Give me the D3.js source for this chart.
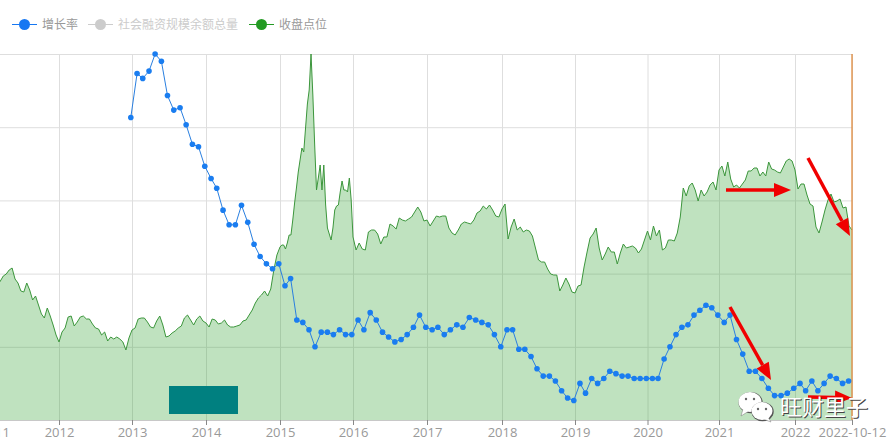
<!DOCTYPE html>
<html><head><meta charset="utf-8">
<style>html,body{margin:0;padding:0;background:#fff;overflow:hidden}svg{display:block}</style>
<script src="https://cdn.jsdelivr.net/npm/d3@7/dist/d3.min.js"></script>
</head><body><svg id="c" width="896" height="447"></svg>
<script>
const legendNames = ["增长率","社会融资规模余额总量","收盘点位"];
const tickLabels = ["2011","2012","2013","2014","2015","2016","2017","2018","2019","2020","2021","2022","2022-10-12"];
const growthTicks = [9,12,15,18,21,24];
const growth2013 = [21.4,23.2,23.0,23.3,24.0,23.7,22.3,21.7,21.8,21.1,20.3,20.2];
const growth2014 = [19.4,18.9,18.5,17.6,17.0,17.0,17.8,17.1,16.2,15.7,15.4,15.2];
const growth2015 = [15.4,14.5,14.8,13.1,13.0,12.7,12.0,12.6,12.6,12.5,12.7,12.5];
const growth2016 = [12.5,13.1,12.7,13.4,13.1,12.6,12.4,12.2,12.3,12.5,12.8,13.3];
const growth2017 = [12.8,12.7,12.8,12.5,12.7,12.9,12.8,13.2,13.1,13.0,12.9,12.5];
const growth2018 = [12.0,12.7,12.7,11.9,11.9,11.6,11.1,10.8,10.8,10.6,10.2,9.9];
const growth2019 = [9.8,10.5,10.1,10.7,10.5,10.7,11.0,10.9,10.8,10.8,10.7,10.7];
const growth2020 = [10.7,10.7,10.7,11.5,12.0,12.5,12.8,12.9,13.3,13.5,13.7,13.6];
const growth2021 = [13.3,13.0,13.3,12.3,11.7,11.0,11.0,10.7,10.3,10.0,10.0,10.1];
const growth2022 = [10.3,10.5,10.2,10.6,10.2,10.5,10.8,10.7,10.5,10.6];
const close2011 = [1320,1350,1390,1440,1460,1500,1520,1410,1370,1290,1280,1370,1300,1200,1240,1150,1060,1020,1120,1040,950,850];
const close2012 = [780,880,920,1030,1040,940,980,1030,1040,1010,1010,960,920,910,850,880,790,830,810,830,810,780,700,820];
const close2013 = [900,920,1010,1020,1020,980,930,920,990,1040,950,830,840,870,890,920,940,1020,1050,1000,950,1010,1040,990];
const close2014 = [970,930,1010,1000,960,970,1000,950,930,930,940,950,990,1000,1050,1100,1170,1220,1250,1290,1240,1310,1500,1650];
const close2015 = [1730,1750,1750,1710,1770,1850,1850,2000,2170,2320,2480,2600,2720,2680,2920,3160,3300,3660,3250,2750,2300,2420,2550,2300,2550,2150,1920,1860,1800,1920,2100,2140,2150,2280,2390,2300,2300,2280,2420,2200];
const close2016 = [1830,1700,1770,1710,1700,1880,1900,1900,1860,1760,1830,1830,1960,1940,1910,2020,2000,1990,2010,2030,2080,2130,2080,1990];
const close2017 = [2000,1940,1990,2040,2030,2040,2040,1920,1870,1850,1900,1960,1980,1970,1960,2000,2070,2090,2140,2110,2150,2100,2040,2030];
const close2018 = [2110,2160,1810,1930,2010,1900,1930,1880,1900,1890,1840,1720,1600,1580,1580,1510,1460,1450,1450,1290,1350,1420,1360,1280];
const close2019 = [1270,1340,1350,1530,1680,1820,1860,1920,1720,1600,1660,1730,1680,1680,1560,1670,1760,1720,1730,1740,1720,1670,1710,1800];
const close2020 = [1890,1800,1940,1840,1900,1700,1720,1800,1800,1790,1870,2030,2320,2240,2340,2370,2300,2190,2300,2240,2280,2350,2380,2300];
const close2021 = [2500,2540,2440,2580,2410,2330,2350,2320,2360,2400,2490,2490,2520,2520,2440,2480,2440,2580,2510,2500,2480,2470,2530,2590,2610,2590];
const close2022 = [2500,2310,2360,2360,2250,2160,2140,1930,1870,1980,2100,2200,2260,2180,2190,2210,2120,2130,1940,1900];

(function(){
const tickDates = [2011,2012,2013,2014,2015,2016,2017,2018,2019,2020,2021,2022].map(y=>new Date(y,0,1)).concat([new Date(2022,9,12)]);
const tickPx = [-5.5,59,132,206,280,353,427,502,575,647.5,719,795,852];
const plotTop=54,plotBottom=420,plotRight=852;
const x = d3.scaleTime().domain(tickDates).range(tickPx);
const yG = d3.scaleLinear().domain([9,24]).range([plotBottom,plotTop]);
const yC = d3.scaleLinear().domain([0,3660]).range([plotBottom,plotTop]);

const closeYears=[close2011,close2012,close2013,close2014,close2015,close2016,close2017,close2018,close2019,close2020,close2021,close2022];
const closeData=[];
closeYears.forEach((arr,yi)=>{
  const d0=+tickDates[yi], d1=+tickDates[yi+1], last=yi===closeYears.length-1;
  arr.forEach((v,i)=>closeData.push({t:new Date(d0+(d1-d0)*i/(last?arr.length-1:arr.length)),v}));
});
const growthAll=[].concat(growth2013,growth2014,growth2015,growth2016,growth2017,growth2018,growth2019,growth2020,growth2021,growth2022);
const growthData=growthAll.map((v,i)=>({t:new Date(2013,i,-5),v}));

const svg=d3.select("#c");
const font='"Noto Sans CJK SC","Open Sans",sans-serif';

// grid
const gy=svg.append("g").call(d3.axisRight(yG).tickValues(growthTicks).tickSize(plotRight).tickFormat(""));
gy.select(".domain").remove();
gy.selectAll("line").attr("stroke","#dedede");
const gx=svg.append("g").attr("transform",`translate(0,${plotBottom})`)
  .call(d3.axisBottom(x).tickValues(tickDates).tickSize(-(plotBottom-plotTop)).tickFormat(""));
gx.select(".domain").remove();
gx.selectAll("line").attr("stroke","#dedede");

// area + line
svg.append("path").datum(closeData).attr("fill","#2ca02c").attr("fill-opacity",0.3)
  .attr("d",d3.area().x(d=>x(d.t)).y0(plotBottom).y1(d=>yC(d.v)));
svg.append("path").datum(closeData).attr("fill","none").attr("stroke","#3c963c").attr("stroke-width",1)
  .attr("d",d3.line().x(d=>x(d.t)).y(d=>yC(d.v)));

// axis
const ax=svg.append("g").attr("transform",`translate(0,${plotBottom})`)
  .call(d3.axisBottom(x).tickValues(tickDates).tickSize(5).tickPadding(3).tickFormat((d,i)=>tickLabels[i]));
ax.select(".domain").attr("stroke","#c8c8c8");
ax.selectAll("line").attr("stroke","#888");
ax.selectAll("text").attr("fill","#999").attr("font-size",13).attr("font-family",'"Open Sans",sans-serif');

// end marker
svg.append("line").attr("x1",x(tickDates[12])).attr("x2",x(tickDates[12])).attr("y1",plotTop).attr("y2",plotBottom)
  .attr("stroke","#e08a3c").attr("stroke-width",1.3);

// growth
svg.append("path").datum(growthData).attr("fill","none").attr("stroke","#2a7fe0").attr("stroke-width",1)
  .attr("d",d3.line().x(d=>x(d.t)).y(d=>yG(d.v)));
svg.append("g").selectAll("circle").data(growthData).join("circle")
  .attr("cx",d=>x(d.t)).attr("cy",d=>yG(d.v)).attr("r",2.8).attr("fill","#1a7df0");

// legend
const legendX=[12,88,249], legendTx=[42,118,279], legendC=["#1677f2","#cccccc","#239a23"], legendT=["#999","#ccc","#999"];
legendNames.forEach((n,i)=>{
  const g=svg.append("g");
  g.append("line").attr("x1",legendX[i]).attr("x2",legendX[i]+25).attr("y1",24.5).attr("y2",24.5).attr("stroke",legendC[i]).attr("stroke-width",1);
  g.append("circle").attr("cx",legendX[i]+12.5).attr("cy",24.5).attr("r",5.5).attr("fill",legendC[i]);
  g.append("text").attr("x",legendTx[i]).attr("y",28.5).attr("font-size",12).attr("font-family",font).attr("fill",legendT[i]).text(n);
});

// teal block
svg.append("rect").attr("x",169).attr("y",386).attr("width",69).attr("height",28).attr("fill","#008080");

// red arrows
const arrows=[[726,190,791,190],[808,158,850,236],[730,307,771,380],[808,397,852,398]];
arrows.forEach(([a,b,c,d])=>{
  const L=Math.hypot(c-a,d-b),ux=(c-a)/L,uy=(d-b)/L,h=17,w=7;
  const bx=c-ux*h,by=d-uy*h;
  svg.append("line").attr("x1",a).attr("y1",b).attr("x2",bx).attr("y2",by).attr("stroke","#f00000").attr("stroke-width",3.5);
  svg.append("polygon").attr("fill","#f00000")
    .attr("points",`${c},${d} ${bx-uy*w},${by+ux*w} ${bx+uy*w},${by-ux*w}`);
});

// watermark
const wm=svg.append("g");
[[750,402,11.5,10,"M743,409 L741,416 L749,411Z"],[762,411,10.5,9,"M768,417 L771,422 L763,419Z"]].forEach(([cx,cy,rx,ry,t])=>{
  wm.append("ellipse").attr("cx",cx+0.6).attr("cy",cy+0.6).attr("rx",rx+0.6).attr("ry",ry+0.6).attr("fill","#555");
  wm.append("path").attr("d",t).attr("fill","#fff").attr("stroke","#777").attr("stroke-width",.5);
  wm.append("ellipse").attr("cx",cx).attr("cy",cy).attr("rx",rx).attr("ry",ry).attr("fill","#fff");
});
[[746,399],[754,399],[758,409],[766,409]].forEach(([a,b])=>wm.append("circle").attr("cx",a).attr("cy",b).attr("r",1.2).attr("fill","#666"));
wm.append("text").attr("x",781).attr("y",416).attr("font-size",22).attr("font-family",font).attr("fill","#444").text("旺财里子");
wm.append("text").attr("x",780).attr("y",415).attr("font-size",22).attr("font-family",font).attr("fill","#fff").text("旺财里子");
})();
</script></body></html>
